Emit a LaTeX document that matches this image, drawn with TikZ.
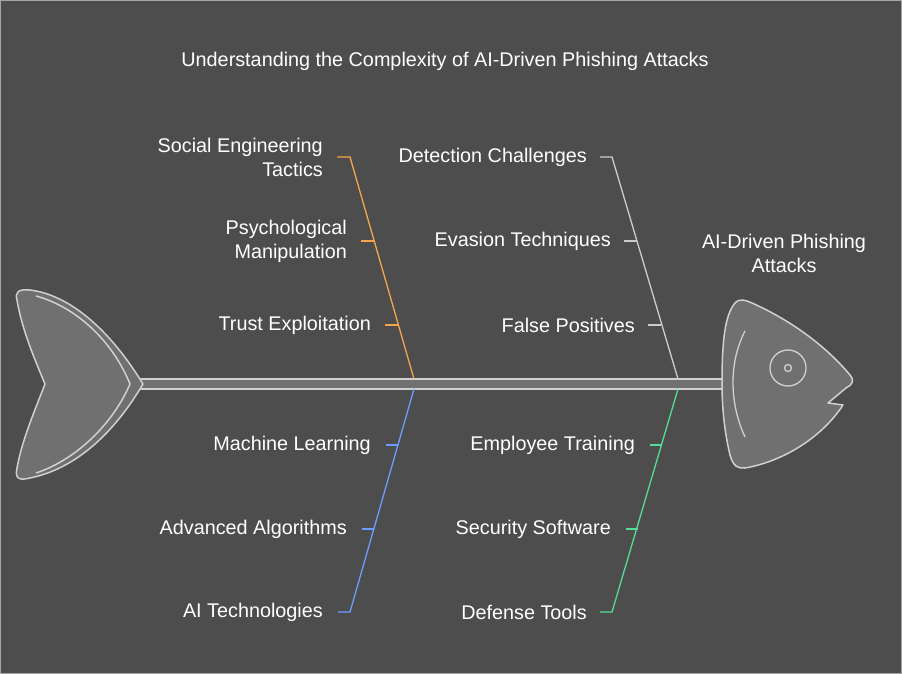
\documentclass[tikz,border=0pt]{standalone}
\usepackage{fontspec}
\setmainfont{Liberation Sans}
\begin{document}
\begin{tikzpicture}[x=1pt,y=-1pt,
  lbl/.style={font=\fontsize{19.8}{24}\selectfont,text=white,inner sep=0pt,align=right},
  bone/.style={line width=1.3pt},
  fishpart/.style={draw=fishline,fill=fishfill,line width=1.5pt,line join=round}]
\definecolor{bg}{HTML}{4D4D4D}
\definecolor{fishfill}{HTML}{707070}
\definecolor{fishline}{HTML}{D0D0D0}
\definecolor{cor}{HTML}{F5A54A}
\definecolor{cbl}{HTML}{6E9CFF}
\definecolor{cgr}{HTML}{52DE97}
\definecolor{cgy}{HTML}{CCCCCC}
\fill[bg] (0,0) rectangle (902,674);
\draw[gray!70,line width=0.8pt] (0.5,0.5) rectangle (901.5,673.5);
\useasboundingbox (0,0) rectangle (902,674);
\node[lbl] (title) at (445,61) {Understanding the Complexity of AI-Driven Phishing Attacks};
% spine
\draw[fishpart,line width=1.2pt] (140,379) rectangle (724,389);
% tail
\draw[fishpart] (143,384) .. controls (110,330) and (70,295) .. (30,290) .. controls (18,289) and (15,292) .. (17,300)
  .. controls (22,330) and (35,360) .. (45,384) .. controls (35,410) and (22,440) .. (17,468)
  .. controls (15,478) and (18,481) .. (30,478) .. controls (70,470) and (110,440) .. cycle;
\draw[draw=fishline,line width=1.5pt] (36,296) .. controls (70,305) and (110,335) .. (130,384) .. controls (110,430) and (70,462) .. (36,473);
% head
\draw[fishpart] (722,384) .. controls (722,340) and (725,315) .. (735,303) .. controls (740,298) and (745,300) .. (752,303)
  .. controls (790,320) and (825,345) .. (850,375) .. controls (855,381) and (852,385) .. (846,388)
  -- (828,403) -- (843,405) .. controls (820,440) and (780,462) .. (745,468)
  .. controls (738,469) and (733,466) .. (730,455) .. controls (724,430) and (722,405) .. cycle;
\draw[fishline,line width=1.3pt] (745,331) .. controls (730,360) and (728,400) .. (745,437);
\draw[fishline,line width=1.3pt] (788,368) circle (18);
\draw[fishline,line width=1.3pt] (788,368) circle (3.5);
% orange bone
\coordinate (o0) at (414,379); \coordinate (o1) at (350,157);
\draw[bone,cor] (337,157) -- (o1) -- (o0);
\draw[bone,cor] (361,241) -- (374,241);
\draw[bone,cor] (385,325) -- (398,325);
% grey bone
\coordinate (g0) at (678,379); \coordinate (g1) at (612,157);
\draw[bone,cgy] (600,157) -- (g1) -- (g0);
\draw[bone,cgy] (624,241) -- (637,241);
\draw[bone,cgy] (648,325) -- (661,325);
% blue bone
\coordinate (b0) at (414,389); \coordinate (b1) at (350,612);
\draw[bone,cbl] (338,612) -- (b1) -- (b0);
\draw[bone,cbl] (386,445) -- (398,445);
\draw[bone,cbl] (362,529) -- (374,529);
% green bone
\coordinate (n0) at (678,389); \coordinate (n1) at (612,612);
\draw[bone,cgr] (600,612) -- (n1) -- (n0);
\draw[bone,cgr] (650,445) -- (662,445);
\draw[bone,cgr] (626,529) -- (638,529);
% labels
\node[lbl,anchor=east] (l1) at (323,157) {Social Engineering\\Tactics};
\node[lbl,anchor=east] (l2) at (347,241) {Psychological\\Manipulation};
\node[lbl,anchor=east] (l3) at (371,325) {Trust Exploitation};
\node[lbl,anchor=east] (l4) at (371,445) {Machine Learning};
\node[lbl,anchor=east] (l5) at (347,529) {Advanced Algorithms};
\node[lbl,anchor=east] (l6) at (323,612) {AI Technologies};
\node[lbl,anchor=east] (r1) at (587,157) {Detection Challenges};
\node[lbl,anchor=east] (r2) at (611,241) {Evasion Techniques};
\node[lbl,anchor=east] (r3) at (635,325) {False Positives};
\node[lbl,anchor=east] (r4) at (635,445) {Employee Training};
\node[lbl,anchor=east] (r5) at (611,529) {Security Software};
\node[lbl,anchor=east] (r6) at (587,612) {Defense Tools};
\node[lbl,align=center] (head) at (784,253) {AI-Driven Phishing\\Attacks};
\end{tikzpicture}
\end{document}
